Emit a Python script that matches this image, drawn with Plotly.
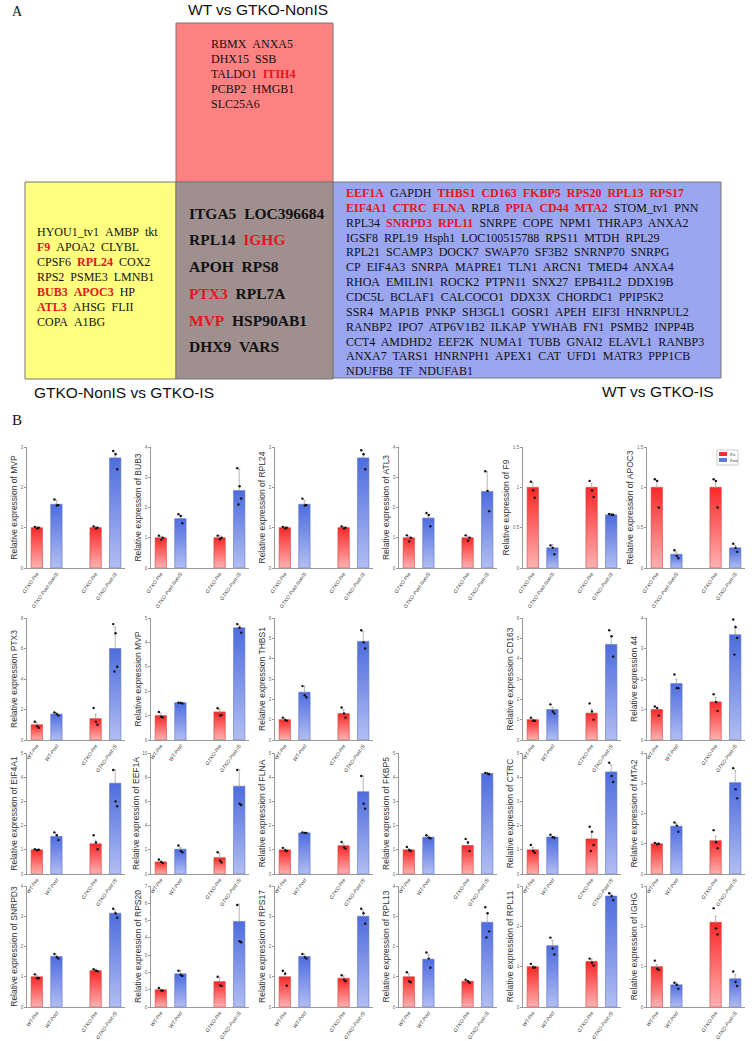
import plotly.graph_objects as go

W, H = 752, 1041

# ---------------- panel A data ----------------
label_top = "WT vs GTKO-NonIS"
label_left = "GTKO-NonIS vs GTKO-IS"
label_right = "WT vs GTKO-IS"

red_box_genes = ["RBMX ANXA5", "DHX15 SSB", "TALDO1 ITIH4", "PCBP2 HMGB1", "SLC25A6"]
yellow_box_genes = ["HYOU1_tv1 AMBP tkt", "F9 APOA2 CLYBL", "CPSF6 RPL24 COX2",
                    "RPS2 PSME3 LMNB1", "BUB3 APOC3 HP", "ATL3 AHSG FLII", "COPA A1BG"]
gray_box_genes = ["ITGA5 LOC396684", "RPL14 IGHG", "APOH RPS8", "PTX3 RPL7A",
                  "MVP HSP90AB1", "DHX9 VARS"]
blue_box_genes = [
    "EEF1A GAPDH THBS1 CD163 FKBP5 RPS20 RPL13 RPS17",
    "EIF4A1 CTRC FLNA RPL8 PPIA CD44 MTA2 STOM_tv1 PNN",
    "RPL34 SNRPD3 RPL11 SNRPE COPE NPM1 THRAP3 ANXA2",
    "IGSF8 RPL19 Hsph1 LOC100515788 RPS11 MTDH RPL29",
    "RPL21 SCAMP3 DOCK7 SWAP70 SF3B2 SNRNP70 SNRPG",
    "CP EIF4A3 SNRPA MAPRE1 TLN1 ARCN1 TMED4 ANXA4",
    "RHOA EMILIN1 ROCK2 PTPN11 SNX27 EPB41L2 DDX19B",
    "CDC5L BCLAF1 CALCOCO1 DDX3X CHORDC1 PPIP5K2",
    "SSR4 MAP1B PNKP SH3GL1 GOSR1 APEH EIF3I HNRNPUL2",
    "RANBP2 IPO7 ATP6V1B2 ILKAP YWHAB FN1 PSMB2 INPP4B",
    "CCT4 AMDHD2 EEF2K NUMA1 TUBB GNAI2 ELAVL1 RANBP3",
    "ANXA7 TARS1 HNRNPH1 APEX1 CAT UFD1 MATR3 PPP1CB",
    "NDUFB8 TF NDUFAB1",
]
validated_genes = {"ITIH4", "F9", "RPL24", "BUB3", "APOC3", "ATL3", "IGHG", "PTX3", "MVP",
                   "EEF1A", "THBS1", "CD163", "FKBP5", "RPS20", "RPL13", "RPS17", "EIF4A1",
                   "CTRC", "FLNA", "PPIA", "CD44", "MTA2", "SNRPD3", "RPL11"}

# ---------------- panel B data ----------------
groups_nonis = ["GTKO-Pre", "GTKO-Post-NonIS", "GTKO-Pre", "GTKO-Post-IS"]
groups_wt = ["WT-Pre", "WT-Post", "GTKO-Pre", "GTKO-Post-IS"]
group_pos = [0, 1, 3, 4]

chart_genes = ["MVP", "BUB3", "RPL24", "ATL3", "F9", "APOC3",
               "PTX3", "MVP", "THBS1", "CD163", "44",
               "EIF4A1", "EEF1A", "FLNA", "FKBP5", "CTRC", "MTA2",
               "SNRPD3", "RPS20", "RPS17", "RPL13", "RPL11", "IGHG"]
chart_row = [0] * 6 + [1] * 5 + [2] * 6 + [3] * 6
chart_col = [0, 1, 2, 3, 4, 5, 0, 1, 2, 4, 5, 0, 1, 2, 3, 4, 5, 0, 1, 2, 3, 4, 5]
chart_ymax = [3, 4, 3, 4, 1.5, 1.5,
              8, 5, 6, 6, 4,
              5, 10, 5, 5, 5, 4,
              4, 7, 4, 4, 3, 3]
chart_dtick = [1, 1, 1, 1, 0.5, 0.5,
               2, 1, 1, 1, 1,
               1, 2, 1, 1, 1, 1,
               1, 1, 1, 1, 1, 1]
chart_means = [
    [1.0, 1.58, 1.0, 2.73], [1.0, 1.63, 1.0, 2.56], [1.0, 1.58, 1.0, 2.73],
    [1.0, 1.65, 1.0, 2.53], [1.0, 0.25, 1.0, 0.66], [1.0, 0.17, 1.0, 0.25],
    [1.0, 1.7, 1.4, 6.0], [1.0, 1.53, 1.15, 4.6], [1.0, 2.35, 1.3, 4.85],
    [1.0, 1.5, 1.32, 4.7], [1.0, 1.85, 1.25, 3.45],
    [1.0, 1.55, 1.25, 3.75], [1.0, 2.05, 1.35, 7.25], [1.0, 1.7, 1.17, 3.4],
    [1.0, 1.52, 1.18, 4.15], [1.0, 1.53, 1.45, 4.22], [1.0, 1.58, 1.1, 3.02],
    [1.0, 1.67, 1.2, 3.1], [1.0, 1.92, 1.47, 4.95], [1.0, 1.67, 0.95, 3.0],
    [1.0, 1.58, 0.85, 2.8], [1.0, 1.52, 1.13, 2.75], [1.0, 0.55, 2.1, 0.7],
]
chart_errs = [
    [0.03, 0.1, 0.03, 0.12], [0.05, 0.1, 0.07, 0.7], [0.03, 0.1, 0.03, 0.12],
    [0.05, 0.12, 0.05, 0.65], [0.06, 0.04, 0.05, 0.01], [0.08, 0.03, 0.08, 0.03],
    [0.15, 0.1, 0.3, 1.4], [0.1, 0.02, 0.1, 0.1], [0.05, 0.3, 0.2, 0.5],
    [0.05, 0.1, 0.2, 0.4], [0.05, 0.15, 0.15, 0.3],
    [0.03, 0.08, 0.15, 0.55], [0.08, 0.15, 0.35, 1.4], [0.04, 0.02, 0.08, 0.65],
    [0.06, 0.05, 0.15, 0.03], [0.1, 0.03, 0.3, 0.3], [0.03, 0.1, 0.15, 0.4],
    [0.05, 0.05, 0.04, 0.1], [0.04, 0.2, 0.25, 1.0], [0.15, 0.07, 0.08, 0.2],
    [0.1, 0.15, 0.03, 0.3], [0.03, 0.13, 0.06, 0.05], [0.05, 0.05, 0.15, 0.1],
]
chart_points = [
    [[1.02, 0.98, 1.0], [1.7, 1.55, 1.56], [1.03, 0.98, 1.0], [2.9, 2.82, 2.45]],
    [[1.07, 0.93, 1.0], [1.78, 1.72, 1.48], [1.07, 0.95, 1.0], [3.3, 2.7, 2.3, 2.1]],
    [[1.02, 0.98, 1.0], [1.72, 1.55, 1.56], [1.03, 0.98, 1.0], [2.92, 2.82, 2.45]],
    [[1.08, 0.88, 1.0], [1.82, 1.75, 1.38], [1.08, 0.9, 1.0], [3.2, 2.55, 1.88]],
    [[1.07, 0.96, 0.87], [0.28, 0.25, 0.17], [1.08, 0.96, 0.88], [0.67, 0.66, 0.66]],
    [[1.1, 1.08, 0.75], [0.22, 0.15, 0.12], [1.1, 1.08, 0.75], [0.3, 0.25, 0.2]],
    [[1.2, 0.9, 0.8], [1.8, 1.7, 1.6], [2.1, 1.2, 1.0], [7.6, 7.0, 4.8, 4.5]],
    [[1.15, 0.95, 0.92], [1.53, 1.52, 1.5], [1.3, 1.0, 1.02], [4.75, 4.6, 4.4]],
    [[1.1, 0.98, 0.95], [2.65, 2.2, 2.1], [1.6, 1.3, 1.1], [5.4, 4.8, 4.5]],
    [[1.1, 0.95, 0.95], [1.75, 1.4, 1.3], [1.8, 1.4, 1.0], [5.4, 5.1, 4.1]],
    [[1.1, 1.05, 0.8], [2.15, 1.7, 1.7], [1.5, 1.25, 0.95], [3.95, 3.7, 3.35, 2.8]],
    [[1.02, 0.98, 1.0], [1.72, 1.6, 1.4], [1.6, 1.3, 1.02], [4.3, 3.0, 2.8]],
    [[1.2, 1.0, 0.9], [2.35, 1.9, 1.8], [1.8, 1.1, 0.95], [8.6, 5.8, 5.7]],
    [[1.08, 0.97, 0.95], [1.72, 1.7, 1.7], [1.32, 1.1, 1.05], [4.05, 2.9, 2.7]],
    [[1.12, 0.98, 0.95], [1.6, 1.5, 1.48], [1.45, 1.3, 0.95], [4.18, 4.15, 4.12]],
    [[1.2, 0.95, 0.88], [1.62, 1.52, 1.5], [1.95, 1.75, 1.2, 0.95], [4.6, 4.05, 3.8]],
    [[1.03, 0.98, 1.0], [1.7, 1.6, 1.4], [1.45, 1.05, 0.85], [3.5, 2.8, 2.5]],
    [[1.08, 0.95, 0.95], [1.75, 1.65, 1.6], [1.25, 1.2, 1.18], [3.25, 3.1, 2.95]],
    [[1.1, 0.95, 0.95], [2.1, 1.85, 1.8], [1.75, 1.25, 1.22], [5.9, 3.8, 3.75]],
    [[1.2, 1.1, 0.7], [1.75, 1.65, 1.6], [1.05, 0.9, 0.85], [3.25, 3.1, 2.75]],
    [[1.15, 0.85, 0.82], [1.8, 1.6, 1.3], [0.9, 0.85, 0.8], [3.3, 3.1, 2.5, 2.3]],
    [[1.07, 0.98, 0.98], [1.72, 1.45, 1.3], [1.2, 1.1, 1.03], [2.82, 2.75, 2.65]],
    [[1.15, 0.95, 0.92], [0.6, 0.55, 0.45], [2.45, 1.95, 1.8], [0.88, 0.62, 0.52]],
]

# ---------------- styling ----------------
RED_TXT = "#e3161e"
SERIF = "Liberation Serif, Times New Roman, serif"
SANS = "Liberation Sans, Arial, sans-serif"
row_top = [447, 618, 753, 886]
row_bot = [568, 740, 874, 1007]
col_left = [27, 151, 275, 399, 523, 647]
plot_w = 98
bar_half = 0.29
jitter = [-0.1, 0.02, 0.1, -0.04]
red_grad = [[0, "rgb(255,178,178)"], [1, "rgb(250,40,40)"]]
blue_grad = [[0, "rgb(178,190,242)"], [1, "rgb(78,108,222)"]]


def px(x):
    return x / W


def py(y):
    return 1 - y / H


def fmt(line, bold=False, sep="\u00a0\u00a0"):
    out = []
    for w in line.split():
        if w in validated_genes:
            out.append(f"<b><span style='color:{RED_TXT}'>{w}</span></b>")
        else:
            out.append(f"<b>{w}</b>" if bold else w)
    return sep.join(out)


fig = go.Figure()
shapes = []
annos = []

# boxes of panel A
box_line = dict(color="#777", width=1)
shapes.append(dict(type="rect", xref="paper", yref="paper", x0=px(176), x1=px(333),
                   y0=py(182), y1=py(23), fillcolor="#ff8282", line=box_line, layer="below"))
shapes.append(dict(type="rect", xref="paper", yref="paper", x0=px(25), x1=px(176),
                   y0=py(379), y1=py(182), fillcolor="#ffff80", line=box_line, layer="below"))
shapes.append(dict(type="rect", xref="paper", yref="paper", x0=px(333), x1=px(721),
                   y0=py(378), y1=py(182), fillcolor="#9aa6ef", line=box_line, layer="below"))
shapes.append(dict(type="rect", xref="paper", yref="paper", x0=px(176), x1=px(333),
                   y0=py(379), y1=py(182), fillcolor="#a08f8f", line=box_line, layer="below"))


def add_text(x, y, text, size, family=SERIF, anchor="left", color="#111"):
    annos.append(dict(xref="paper", yref="paper", x=px(x), y=py(y), text=text,
                      showarrow=False, xanchor=anchor, yanchor="middle",
                      font=dict(size=size, family=family, color=color)))


add_text(10, 11, "A", 14)
add_text(10, 420, "B", 15)
add_text(258, 10, label_top, 15.5, SANS, "center")
add_text(124, 392, label_left, 15.5, SANS, "center")
add_text(716, 391, label_right, 15.5, SANS, "right")

for i, line in enumerate(red_box_genes):
    add_text(209, 44 + 15 * i, fmt(line), 12)
for i, line in enumerate(yellow_box_genes):
    add_text(35, 232 + 15 * i, fmt(line), 12)
for i, line in enumerate(gray_box_genes):
    add_text(187, 213 + 26.8 * i, fmt(line, bold=True), 15.5)
for i, line in enumerate(blue_box_genes):
    add_text(344, 193 + 14.85 * i, fmt(line, sep="\u00a0 "), 12)

# ---------------- panel B charts ----------------
layout_axes = {}
for n, gene in enumerate(chart_genes):
    k = n + 1
    xa = "x" if k == 1 else f"x{k}"
    ya = "y" if k == 1 else f"y{k}"
    r, c = chart_row[n], chart_col[n]
    means = chart_means[n]
    for i, m in enumerate(means):
        xc = group_pos[i]
        is_pre = i % 2 == 0
        fig.add_trace(go.Scatter(
            x=[xc - bar_half, xc - bar_half, xc + bar_half, xc + bar_half, xc - bar_half],
            y=[0, m, m, 0, 0], mode="lines", fill="toself",
            fillgradient=dict(type="vertical", colorscale=red_grad if is_pre else blue_grad),
            line=dict(color="#d04545" if is_pre else "#5a72c8", width=0.6),
            xaxis=xa, yaxis=ya, showlegend=False, hoverinfo="skip"))
    fig.add_trace(go.Scatter(
        x=group_pos, y=means, mode="markers",
        marker=dict(size=1, color="rgba(0,0,0,0)"),
        error_y=dict(type="data", symmetric=False, array=chart_errs[n],
                     arrayminus=[0] * 4, color="#9a9a9a", thickness=0.7, width=1.2),
        xaxis=xa, yaxis=ya, showlegend=False, hoverinfo="skip"))
    dx, dy = [], []
    for i, pts in enumerate(chart_points[n]):
        for j, p in enumerate(pts):
            dx.append(group_pos[i] + jitter[j])
            dy.append(p)
    fig.add_trace(go.Scatter(x=dx, y=dy, mode="markers",
                             marker=dict(size=2.4, color="#111"),
                             xaxis=xa, yaxis=ya, showlegend=False, hoverinfo="skip"))

    ticktext = groups_nonis if r == 0 else groups_wt
    if r == 1:
        ytitle = f"Relative expression {gene}"
    else:
        ytitle = f"Relative expression of {gene}"
    key = "" if k == 1 else str(k)
    layout_axes["xaxis" + key] = dict(
        domain=[px(col_left[c]), px(col_left[c] + plot_w)], anchor=ya,
        range=[-0.5, 4.5], showline=True, linecolor="#999", linewidth=0.8,
        tickvals=group_pos, ticktext=ticktext, tickangle=-55, ticks="",
        tickfont=dict(size=5.1, family=SANS, color="#333", style="italic"),
        showgrid=False, zeroline=False, fixedrange=True, automargin=False)
    layout_axes["yaxis" + key] = dict(
        domain=[py(row_bot[r]), py(row_top[r])], anchor=xa,
        range=[0, chart_ymax[n]], dtick=chart_dtick[n], showline=True,
        linecolor="#999", linewidth=0.8, ticks="outside", ticklen=2, tickcolor="#999",
        tickfont=dict(size=4.5, family=SANS, color="#666"),
        title=dict(text=ytitle, font=dict(size=8.5, family=SANS, color="#333"), standoff=1),
        showgrid=False, zeroline=False, fixedrange=True, automargin=False)

# legend box in APOC3 chart
shapes.append(dict(type="rect", xref="paper", yref="paper", x0=px(717), x1=px(738),
                   y0=py(465), y1=py(450), fillcolor="white",
                   line=dict(color="#aaa", width=0.6)))
shapes.append(dict(type="rect", xref="paper", yref="paper", x0=px(719), x1=px(727),
                   y0=py(456), y1=py(452), fillcolor="#f03030", line=dict(width=0)))
shapes.append(dict(type="rect", xref="paper", yref="paper", x0=px(719), x1=px(727),
                   y0=py(462), y1=py(458), fillcolor="#5a78e0", line=dict(width=0)))
add_text(728, 454, "Pre", 4.5, SERIF, "left", "#333")
add_text(728, 460, "Post", 4.5, SERIF, "left", "#333")

fig.update_layout(width=W, height=H, margin=dict(l=0, r=0, t=0, b=0, autoexpand=False),
                  paper_bgcolor="white", plot_bgcolor="white",
                  shapes=shapes, annotations=annos, showlegend=False, **layout_axes)

# page body has a default margin; drop it so the figure sits at the window origin
fig.write_html("out.html", config={"displayModeBar": False},
               post_script="document.body.style.margin='0';")
